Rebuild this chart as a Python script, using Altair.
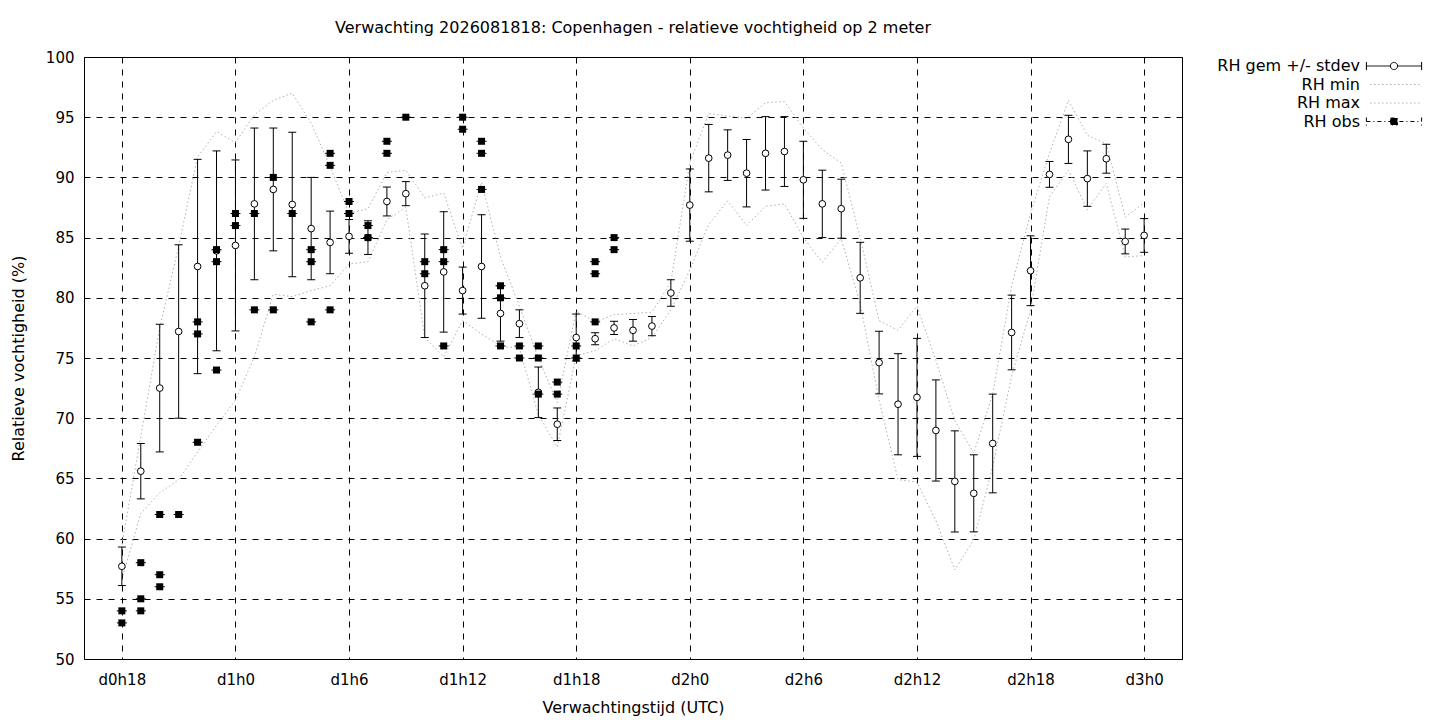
import altair as alt
import pandas as pd

FONT = "DejaVu Sans"

# forecast hours (hours after d0h0)
hours = list(range(18, 73))
rh_mean = [57.7, 65.6, 72.5, 77.2, 82.6, 83.9, 84.35, 87.8, 89.0, 87.75,
           85.75, 84.6, 85.1, 85.0, 88.0, 88.65, 81.0, 82.15, 80.6, 82.6,
           78.7, 77.85, 72.15, 69.5, 76.7, 76.6, 77.5, 77.3, 77.65, 80.4,
           87.7, 91.6, 91.85, 90.35, 92.0, 92.15, 89.8, 87.8, 87.4, 81.66,
           74.62, 71.16, 71.73, 68.98, 64.75, 63.76, 67.9, 77.12, 82.25, 90.25,
           93.16, 89.9, 91.55, 84.68, 85.18]
rh_sd = [1.6, 2.3, 5.3, 7.2, 8.9, 8.3, 7.1, 6.3, 5.1, 6.0,
         4.25, 2.6, 1.4, 1.4, 1.2, 1.0, 4.3, 5.0, 1.95, 4.3,
         2.3, 1.15, 2.1, 1.35, 1.95, 0.5, 0.55, 0.9, 0.8, 1.1,
         3.0, 2.8, 2.1, 2.8, 3.05, 2.9, 3.2, 2.8, 2.45, 2.95,
         2.6, 4.2, 4.9, 4.2, 4.2, 3.2, 4.1, 3.1, 2.9, 1.07,
         2.0, 2.3, 1.2, 1.03, 1.4]
rh_min = [56.6, 62.1, 63.8, 64.9, 67.2, 69.4, 71.5, 75.1, 80.3, 80.1,
          80.6, 81.0, 82.8, 83.0, 86.5, 87.5, 76.7, 75.1, 78.1, 77.0,
          76.0, 75.8, 70.3, 67.6, 75.2, 75.6, 76.6, 76.0, 76.7, 79.0,
          82.3, 86.1, 88.05, 86.0, 87.6, 87.8, 85.0, 82.95, 84.9, 79.5,
          71.5, 64.9, 64.7, 61.5, 57.4, 59.9, 66.0, 73.5, 79.0, 88.4,
          90.6, 87.3, 89.5, 83.4, 83.5]
rh_max = [59.5, 68.5, 77.5, 84.3, 91.7, 93.8, 92.9, 95.2, 96.4, 97.0,
          94.5, 90.9, 87.0, 87.4, 90.4, 90.6, 88.3, 88.7, 84.1, 89.6,
          83.4, 79.3, 75.0, 71.3, 78.9, 78.0, 78.6, 78.7, 78.8, 81.3,
          91.2, 95.3, 95.1, 94.9, 96.2, 96.3, 94.1, 92.3, 91.2, 85.0,
          78.1, 77.3, 79.3, 74.8, 69.8, 67.1, 72.0, 81.0, 87.0, 92.0,
          96.4, 93.5, 92.8, 86.7, 87.9]

# observations
obs_hours = [18, 18, 19, 19, 19, 20, 20, 20, 21, 22, 22, 22, 23, 23, 23,
             24, 24, 25, 25, 26, 26, 27, 28, 28, 28, 29, 29, 29, 30, 30,
             31, 31, 32, 32, 33, 34, 34, 35, 35, 35, 36, 36, 37, 37, 37,
             38, 38, 38, 39, 39, 40, 40, 40, 41, 41, 42, 42, 43, 43, 43,
             44, 44]
obs_values = [54, 53, 58, 55, 54, 62, 57, 56, 62, 78, 77, 68, 84, 83, 74,
              87, 86, 87, 79, 90, 79, 87, 84, 83, 78, 92, 91, 79, 88, 87,
              86, 85, 93, 92, 95, 83, 82, 84, 83, 76, 95, 94, 93, 92, 89,
              81, 80, 76, 76, 75, 76, 75, 72, 73, 72, 76, 75, 83, 82, 78,
              85, 84]

series = ["RH gem +/- stdev", "RH min", "RH max", "RH obs"]
x_ticks = list(range(18, 73, 6))
y_ticks = list(range(50, 101, 5))

fc = pd.DataFrame({"uur": hours, "gem": rh_mean, "sd": rh_sd,
                   "rhmin": rh_min, "rhmax": rh_max})
fc["lo"] = fc["gem"] - fc["sd"]
fc["hi"] = fc["gem"] + fc["sd"]
obs = pd.DataFrame({"uur": obs_hours, "rh": obs_values})
leg = pd.DataFrame({"serie": series})

W, H = 1098, 602

x_scale = alt.Scale(domain=[16, 74], nice=False, zero=False)
y_scale = alt.Scale(domain=[50, 100], nice=False, zero=False)

x_axis = alt.Axis(
    values=x_ticks,
    labelExpr="'d' + floor(datum.value / 24) + 'h' + (datum.value % 24)",
    title="Verwachtingstijd (UTC)",
    grid=True, ticks=False, tickSize=0, domain=False,
    labelPadding=20, labelBaseline="middle", labelFlush=False,
    titleX=W / 2, titleY=48, titleBaseline="middle", titleAlign="center",
)
y_axis = alt.Axis(
    values=y_ticks,
    title="Relatieve vochtigheid (%)",
    grid=True, ticks=False, tickSize=0, domain=False,
    labelPadding=10, labelBaseline="middle", labelFlush=False,
    titleX=-66, titleY=H / 2, titleAngle=270, titleBaseline="middle",
    titleAlign="center",
)


def X():
    return alt.X("uur:Q", scale=x_scale, axis=x_axis)


def Y(field):
    return alt.Y(f"{field}:Q", scale=y_scale, axis=y_axis)


GRAY = "#b0b0b0"
DOT = [1.5, 2.5]

base = alt.Chart(fc)

min_line = base.mark_line(color=GRAY, strokeWidth=1, strokeDash=DOT).encode(x=X(), y=Y("rhmin"))
max_line = base.mark_line(color=GRAY, strokeWidth=1, strokeDash=DOT).encode(x=X(), y=Y("rhmax"))

err_rule = base.mark_rule(color="black", strokeWidth=1).encode(
    x=X(), y=Y("lo"), y2=alt.Y2("hi"))
cap_lo = base.mark_tick(orient="horizontal", size=8, thickness=1, color="black", opacity=1).encode(
    x=X(), y=Y("lo"))
cap_hi = base.mark_tick(orient="horizontal", size=8, thickness=1, color="black", opacity=1).encode(
    x=X(), y=Y("hi"))
mean_pts = base.mark_point(shape="circle", filled=True, fill="white", stroke="black",
                           strokeWidth=1, size=45, opacity=1).encode(x=X(), y=Y("gem"))

obs_base = alt.Chart(obs)
obs_stub = obs_base.mark_tick(orient="horizontal", size=10, thickness=1, color="black", opacity=1).encode(
    x=X(), y=Y("rh"))
obs_pts = obs_base.mark_square(size=49, color="black", opacity=1).encode(x=X(), y=Y("rh"))

# legend (symbols drawn by the legend itself)
path_eb = ("M-6.9,0H-0.9M0.9,0H6.9M-6.9,-1V1M6.9,-1V1"
           "M-0.9,0A0.9,0.9 0 1,0 0.9,0A0.9,0.9 0 1,0 -0.9,0Z")
path_ln = "M-6.0,0H6.9"
path_obs = "M-6.9,-1V1M6.9,-1V1M-6.9,0H6.9M-0.85,-0.85H0.85V0.85H-0.85Z"

legend = alt.Legend(
    title=None, orient="none", legendX=1302, legendY=1,
    labelAlign="right", labelOffset={"expr": "-42"}, labelFontSize=16, labelFont=FONT,
    labelColor="black", labelLimit=300, labelBaseline="middle",
    symbolSize=64, symbolStrokeWidth=1, symbolOpacity=1,
    rowPadding=2.5, padding=0,
)
legend_layer = alt.Chart(leg).mark_point(size=64).encode(
    shape=alt.Shape("serie:N", scale=alt.Scale(domain=series,
                    range=[path_eb, path_ln, path_ln, path_obs]), legend=legend),
    stroke=alt.Stroke("serie:N", scale=alt.Scale(domain=series,
                      range=["black", GRAY, GRAY, "black"]), legend=legend),
    fill=alt.Fill("serie:N", scale=alt.Scale(domain=series,
                  range=["white", "transparent", "transparent", "black"]), legend=legend),
    strokeDash=alt.StrokeDash("serie:N", scale=alt.Scale(domain=series,
                              range=[[1, 0], DOT, DOT, [4, 3, 1, 3]]), legend=legend),
).transform_filter("false")

chart = alt.layer(
    min_line, max_line, err_rule, cap_lo, cap_hi, mean_pts, obs_stub, obs_pts, legend_layer
).properties(
    width=W, height=H,
    title=alt.TitleParams(
        text="Verwachting 2026081818: Copenhagen - relatieve vochtigheid op 2 meter",
        font=FONT, fontSize=16, fontWeight="normal", color="black",
        anchor="middle", baseline="alphabetic", offset=1,
    ),
    autosize=alt.AutoSizeParams(type="none"),
    padding={"left": 76, "top": 49, "right": 250, "bottom": 60},
    background="white",
).configure_view(
    stroke="black", strokeWidth=1,
).configure_axis(
    labelFont=FONT, labelFontSize=15, labelColor="black",
    titleFont=FONT, titleFontSize=16, titleFontWeight="normal", titleColor="black",
    gridColor="black", gridOpacity=1, gridWidth=1, gridDash=[6, 6],
)

chart.save("out.html", embed_options={"renderer": "svg", "actions": False})
